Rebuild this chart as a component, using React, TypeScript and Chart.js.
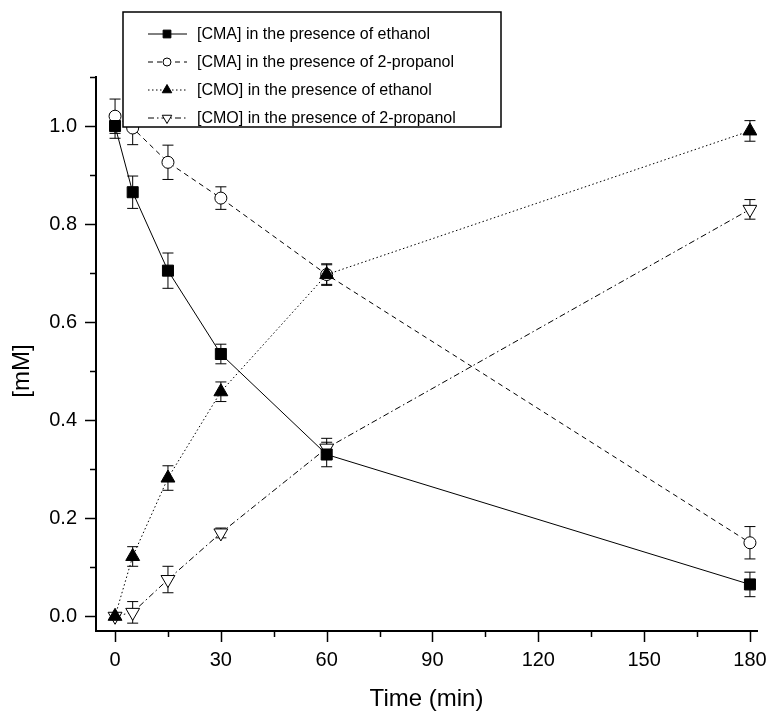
import { useEffect, useRef } from 'react';
import { Chart, registerables } from 'chart.js';
Chart.register(...registerables);

const times = [0, 5, 15, 30, 60, 180];
const cmaEthanol = [1.0, 0.865, 0.705, 0.535, 0.33, 0.065];
const cmaEthanolErr = [0.025, 0.033, 0.036, 0.02, 0.025, 0.025];
const cmaPropanol = [1.02, 0.996, 0.926, 0.853, 0.697, 0.15];
const cmaPropanolErr = [0.035, 0.034, 0.035, 0.023, 0.022, 0.033];
const cmoEthanol = [0, 0.122, 0.282, 0.458, 0.697, 0.99];
const cmoEthanolErr = [0.005, 0.02, 0.025, 0.02, 0.02, 0.021];
const cmoPropanol = [0, 0.008, 0.075, 0.17, 0.343, 0.83];
const cmoPropanolErr = [0.005, 0.022, 0.027, 0.01, 0.02, 0.02];

const seriesLabels = [
  '[CMA] in the presence of ethanol',
  '[CMA] in the presence of 2-propanol',
  '[CMO] in the presence of ethanol',
  '[CMO] in the presence of 2-propanol',
];

const xTicks = [0, 30, 60, 90, 120, 150, 180];
const xMinorTicks = [15, 45, 75, 105, 135, 165];
const yTicks = [0, 0.2, 0.4, 0.6, 0.8, 1.0];
const yMinorTicks = [0.1, 0.3, 0.5, 0.7, 0.9, 1.1];

const FONT = "'Liberation Sans', Arial, Helvetica, sans-serif";

type Style = {
  marker: 'rect' | 'circle' | 'triangle' | 'triangleDown';
  fill: string;
  dash: number[];
  radius: number;
};

const styles: Style[] = [
  { marker: 'rect', fill: '#000', dash: [], radius: 7.8 },
  { marker: 'circle', fill: '#fff', dash: [5, 4], radius: 6 },
  { marker: 'triangle', fill: '#000', dash: [1.5, 2.5], radius: 8 },
  { marker: 'triangleDown', fill: '#fff', dash: [6, 3, 1.5, 3], radius: 8 },
];

const values = [cmaEthanol, cmaPropanol, cmoEthanol, cmoPropanol];
const errors = [cmaEthanolErr, cmaPropanolErr, cmoEthanolErr, cmoPropanolErr];
const orders = [0, 2, 1, 3];

function drawMarker(ctx: CanvasRenderingContext2D, s: Style, x: number, y: number, r: number) {
  ctx.save();
  ctx.setLineDash([]);
  ctx.lineWidth = 1;
  ctx.strokeStyle = '#000';
  ctx.fillStyle = s.fill;
  ctx.beginPath();
  if (s.marker === 'rect') {
    const h = r * Math.SQRT1_2;
    ctx.rect(x - h, y - h, 2 * h, 2 * h);
  } else if (s.marker === 'circle') {
    ctx.arc(x, y, r, 0, Math.PI * 2);
  } else {
    const dir = s.marker === 'triangle' ? 1 : -1;
    for (let k = 0; k < 3; k++) {
      const a = (k * 2 * Math.PI) / 3;
      const px = x + Math.sin(a) * r;
      const py = y - dir * Math.cos(a) * r;
      if (k === 0) ctx.moveTo(px, py);
      else ctx.lineTo(px, py);
    }
    ctx.closePath();
  }
  ctx.fill();
  ctx.stroke();
  ctx.restore();
}

const decor = {
  id: 'decor',
  beforeDatasetsDraw(chart: any) {
    const ctx: CanvasRenderingContext2D = chart.ctx;
    const xs = chart.scales.x;
    const ys = chart.scales.y;
    ctx.save();
    ctx.strokeStyle = '#000';
    ctx.lineWidth = 1;
    ctx.setLineDash([]);
    values.forEach((vals, d) => {
      vals.forEach((v, i) => {
        const e = errors[d][i];
        const x = xs.getPixelForValue(times[i]);
        const yt = ys.getPixelForValue(v + e);
        const yb = ys.getPixelForValue(v - e);
        ctx.beginPath();
        ctx.moveTo(x, yt);
        ctx.lineTo(x, yb);
        ctx.moveTo(x - 5.5, yt);
        ctx.lineTo(x + 5.5, yt);
        ctx.moveTo(x - 5.5, yb);
        ctx.lineTo(x + 5.5, yb);
        ctx.stroke();
      });
    });
    ctx.restore();
  },
  afterDraw(chart: any) {
    const ctx: CanvasRenderingContext2D = chart.ctx;
    const xs = chart.scales.x;
    const ys = chart.scales.y;
    const area = chart.chartArea;
    ctx.save();
    ctx.strokeStyle = '#000';
    ctx.lineWidth = 1.5;
    ctx.setLineDash([]);
    const drawX = (v: number, len: number) => {
      const x = Math.round(xs.getPixelForValue(v)) + 0.5;
      ctx.beginPath();
      ctx.moveTo(x, area.bottom);
      ctx.lineTo(x, area.bottom + len);
      ctx.stroke();
    };
    const drawY = (v: number, len: number) => {
      const y = Math.round(ys.getPixelForValue(v)) + 0.5;
      ctx.beginPath();
      ctx.moveTo(area.left, y);
      ctx.lineTo(area.left - len, y);
      ctx.stroke();
    };
    xTicks.forEach((v) => drawX(v, 11));
    xMinorTicks.forEach((v) => drawX(v, 6));
    yTicks.forEach((v) => drawY(v, 11));
    yMinorTicks.forEach((v) => drawY(v, 6));

    ctx.fillStyle = '#000';
    ctx.font = `24px ${FONT}`;
    ctx.textAlign = 'center';
    ctx.textBaseline = 'middle';
    ctx.fillText('Time (min)', (area.left + area.right) / 2, 699);
    ctx.save();
    ctx.translate(22, 371);
    ctx.rotate(-Math.PI / 2);
    ctx.fillText('[mM]', 0, 0);
    ctx.restore();

    const bx = 123, by = 12, bw = 378, bh = 115;
    ctx.fillStyle = '#fff';
    ctx.fillRect(bx, by, bw, bh);
    ctx.lineWidth = 1.5;
    ctx.strokeStyle = '#000';
    ctx.strokeRect(bx, by, bw, bh);
    ctx.font = `16px ${FONT}`;
    ctx.textAlign = 'left';
    ctx.textBaseline = 'middle';
    seriesLabels.forEach((label, i) => {
      const y = by + 22 + i * 28;
      const s = styles[i];
      ctx.save();
      ctx.lineWidth = 1;
      ctx.setLineDash(s.dash);
      ctx.beginPath();
      ctx.moveTo(bx + 25, y);
      ctx.lineTo(bx + 64, y);
      ctx.stroke();
      ctx.restore();
      drawMarker(ctx, s, bx + 44, y, s.marker === 'rect' ? 5.5 : s.marker === 'circle' ? 4 : 5.5);
      ctx.fillStyle = '#000';
      ctx.fillText(label, bx + 74, y + 1);
    });
    ctx.restore();
  },
};

export default function App() {
  const ref = useRef<HTMLCanvasElement | null>(null);
  useEffect(() => {
    if (!ref.current) return;
    const datasets = values.map((vals, d) => {
      const s = styles[d];
      return {
        label: seriesLabels[d],
        data: vals.map((v, i) => ({ x: times[i], y: v })),
        borderColor: '#000',
        borderWidth: 1,
        borderDash: s.dash,
        backgroundColor: s.fill,
        pointBackgroundColor: s.fill,
        pointBorderColor: '#000',
        pointBorderWidth: 1,
        pointRadius: s.radius,
        pointStyle: s.marker === 'triangleDown' ? 'triangle' : s.marker,
        pointRotation: s.marker === 'triangleDown' ? 180 : 0,
        tension: 0,
        fill: false,
        order: orders[d],
      };
    });
    const chart = new Chart(ref.current, {
      type: 'line',
      data: { datasets },
      options: {
        animation: false,
        responsive: false,
        layout: { padding: { top: 77, right: 11, left: 0, bottom: 0 } },
        plugins: { legend: { display: false }, tooltip: { enabled: false } },
        scales: {
          x: {
            type: 'linear',
            position: 'bottom',
            min: -5.4,
            max: 182,
            grid: { display: false, drawTicks: false },
            border: { display: true, color: '#000', width: 2 },
            afterBuildTicks: (s: any) => {
              s.ticks = xTicks.map((v) => ({ value: v }));
            },
            afterFit: (s: any) => {
              s.height = 82;
              s.paddingLeft = 0;
              s.paddingRight = 0;
            },
            ticks: {
              padding: 17,
              color: '#000',
              font: { family: FONT, size: 20 },
              maxRotation: 0,
              autoSkip: false,
              callback: (v: any) => String(v),
            },
          },
          y: {
            type: 'linear',
            min: -0.03,
            max: 1.1,
            grid: { display: false, drawTicks: false },
            border: { display: true, color: '#000', width: 2 },
            afterBuildTicks: (s: any) => {
              s.ticks = yTicks.map((v) => ({ value: v }));
            },
            afterFit: (s: any) => {
              s.width = 96;
              s.paddingTop = 0;
              s.paddingBottom = 0;
            },
            ticks: {
              padding: 19,
              color: '#000',
              font: { family: FONT, size: 20 },
              autoSkip: false,
              callback: (v: any) => Number(v).toFixed(1),
            },
          },
        },
      },
      plugins: [decor],
    });
    return () => chart.destroy();
  }, []);
  return (
    <div style={{ position: 'absolute', left: 0, top: 0, width: 768, height: 713, background: '#fff' }}>
      <canvas ref={ref} width={768} height={713} />
    </div>
  );
}
